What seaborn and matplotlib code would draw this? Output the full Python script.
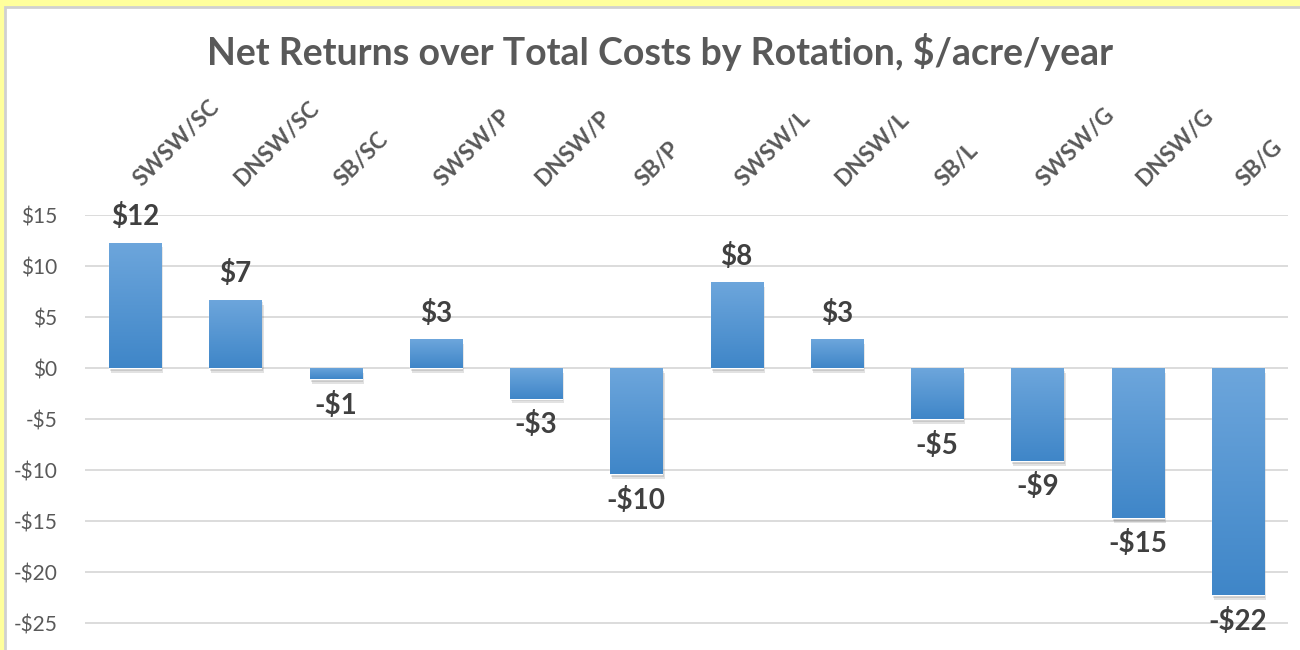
import numpy as np
import matplotlib
matplotlib.use("Agg")
import matplotlib.pyplot as plt
import matplotlib.patheffects as pe
import matplotlib.transforms as mtransforms
from matplotlib.colors import LinearSegmentedColormap
from matplotlib.patches import Rectangle
import seaborn as sns

# Data
rotations = ["SWSW/SC", "DNSW/SC", "SB/SC", "SWSW/P", "DNSW/P", "SB/P",
             "SWSW/L", "DNSW/L", "SB/L", "SWSW/G", "DNSW/G", "SB/G"]
net_returns = [12.3, 6.7, -1.1, 2.8, -3.0, -10.4, 8.4, 2.8, -5.0, -9.1, -14.7, -22.3]
y_ticks = [15, 10, 5, 0, -5, -10, -15, -20, -25]

sns.set_style("white")
plt.rcParams["font.family"] = ["Lato", "DejaVu Sans"]

fig = plt.figure(figsize=(13, 6.5), dpi=100)
fig.patch.set_facecolor("#FFFF9C")

# white chart panel with grey edge
panel = Rectangle((5 / 1300, -0.1), 1.1, 1.1 - 7 / 650, transform=fig.transFigure,
                  facecolor="white", edgecolor="#D0D0D0", linewidth=2, zorder=-10)
fig.patches.append(panel)

ax = fig.add_axes([85 / 1300, 0.0023, (1288 - 85) / 1300, 0.6669])
ax.set_facecolor("none")

sns.barplot(x=rotations, y=net_returns, color="#5B9BD5", width=0.52, ax=ax, zorder=3)

ax.set_ylim(-27.5, 15)
xlim = ax.get_xlim()

# gradient fill + soft shadow on each bar
cmap = LinearSegmentedColormap.from_list("bar", ["#3F86C8", "#6DA6DC"])
grad = np.linspace(0, 1, 256).reshape(-1, 1)
for p in ax.patches:
    p.set_path_effects([pe.SimplePatchShadow(offset=(1.5, -3.5), alpha=0.14, shadow_rgbFace="#333333"),
                        pe.SimplePatchShadow(offset=(0.8, -2), alpha=0.14, shadow_rgbFace="#333333"),
                        pe.Normal()])
    x0, w = p.get_x(), p.get_width()
    y0, h = p.get_y(), p.get_height()
    lo, hi = min(y0, y0 + h), max(y0, y0 + h)
    im = ax.imshow(grad, extent=[x0, x0 + w, lo, hi], origin="lower", aspect="auto",
                   cmap=cmap, zorder=4)
    im.set_clip_path(p)

ax.set_xlim(xlim)
ax.set_ylim(-27.5, 15)

# value labels
labels = [("-$" if v < 0 else "$") + f"{abs(round(v)):.0f}" for v in net_returns]
ax.bar_label(ax.containers[0], labels=labels, padding=9, fontsize=20,
             fontweight="bold", color="#404040", zorder=5)

ax.set_yticks(y_ticks)
ax.set_yticklabels([("-$" if t < 0 else "$") + str(abs(t)) for t in y_ticks],
                   fontsize=15, color="#595959")
ax.yaxis.grid(True, color="#D9D9D9", linewidth=1.3, zorder=0)
ax.set_axisbelow(True)

ax.xaxis.tick_top()
ax.set_xticks(range(len(rotations)))
ax.set_xticklabels(rotations, rotation=45, ha="left", va="baseline",
                   rotation_mode="anchor", fontsize=16.5, fontweight="bold", color="#595959")
ax.tick_params(axis="x", length=0, pad=20)
ax.tick_params(axis="y", length=0, pad=20)
shift = mtransforms.ScaledTranslation(7 / 100, 0, fig.dpi_scale_trans)
for lbl in ax.get_xticklabels():
    lbl.set_transform(lbl.get_transform() + shift)

for s in ax.spines.values():
    s.set_visible(False)

fig.text(0.508, 0.92, "Net Returns over Total Costs by Rotation, $/acre/year",
         ha="center", va="center", fontsize=27, fontweight="bold", color="#595959")

fig.savefig("out.png", dpi=100, facecolor=fig.get_facecolor())
